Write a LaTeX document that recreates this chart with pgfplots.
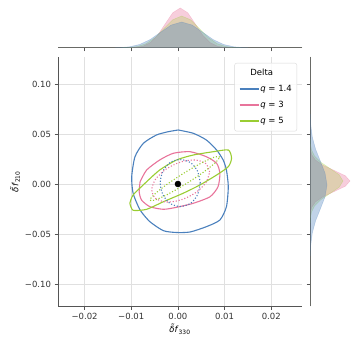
\documentclass[border=0pt]{standalone}
\usepackage{fontspec}
\setmainfont{DejaVu Sans}
\usepackage{pgfplots}
\pgfplotsset{compat=1.18}

\definecolor{cb}{HTML}{4A80BD}
\definecolor{cp}{HTML}{E8749B}
\definecolor{cg}{HTML}{9ACD32}
\definecolor{spine}{HTML}{555555}

\pgfplotsset{
  every axis/.append style={
    scale only axis,
    scaled ticks=false,
    font=\fontsize{8.5}{10}\selectfont,
    tick label style={color=black!80},
    axis line style={spine, line width=1pt},
    tick style={spine, line width=0.8pt},
    major tick length=3.5pt,
    tick align=outside,
  },
}

\begin{document}
\begin{tikzpicture}
\useasboundingbox (0pt,0pt) rectangle (358pt,345pt);

% main joint panel
\begin{axis}[
  at={(58pt,39pt)}, anchor=south west,
  width=244pt, height=249pt,
  xmin=-0.0257, xmax=0.0266,
  ymin=-0.122, ymax=0.127,
  axis x line*=bottom, axis y line*=left,
  xtick={-0.02,-0.01,0,0.01,0.02},
  xticklabels={−0.02,−0.01,0.00,0.01,0.02},
  ytick={-0.1,-0.05,0,0.05,0.1},
  yticklabels={−0.10,−0.05,0.00,0.05,0.10},
  grid=major, grid style={black!12, line width=0.6pt},
  xlabel={\textit{δ̃f}\textsubscript{330}},
  ylabel={\textit{δ̃f}\textsubscript{210}},
  xlabel style={yshift=2pt},
  ylabel style={yshift=-2pt},
  legend style={at={(239pt,243pt)}, anchor=north east,
    draw=black!15, rounded corners=2pt, fill=white, fill opacity=0.85, text opacity=1,
    row sep=6pt, inner xsep=4pt, inner ysep=5pt,
    nodes={inner sep=1pt, text height=6.5pt, text depth=1.5pt},
    font=\fontsize{8.5}{10}\selectfont},
  legend cell align=left,
  legend image code/.code={\draw[#1] (0pt,0pt) -- (19pt,0pt);},
  legend image post style={line width=1.7pt, solid, opacity=1},
]
\addlegendimage{empty legend}
\addlegendentry{\hspace*{-10pt}Delta}

\addplot[cb, line width=1.1pt, smooth, tension=0.4] coordinates {
(0.00007,0.054) (0.0033,0.0507) (0.0061,0.044) (0.0083,0.034) (0.0097,0.024)
(0.0104,0.014) (0.0108,-0.0027) (0.0104,-0.0227) (0.009,-0.036) (0.0061,-0.0427)
(0.0026,-0.0480) (-0.0003,-0.0485) (-0.0031,-0.0467) (-0.006,-0.0377) (-0.0081,-0.026)
(-0.0096,-0.0093) (-0.0099,0.0073) (-0.0092,0.0273) (-0.0074,0.0407) (-0.0046,0.049)
(-0.00207,0.0523) (0.00007,0.054)
};
\addlegendentry{\textit{q} = 1.4}

\addplot[cp, line width=1.1pt, smooth, tension=0.4] coordinates {
(-0.0081,0.0023) (-0.0067,0.014) (-0.0039,0.024) (-0.001,0.0307) (0.0026,0.0323)
(0.0061,0.0273) (0.0083,0.0207) (0.009,0.0107) (0.0086,-0.0027) (0.0069,-0.0127)
(0.0033,-0.0193) (-0.0003,-0.0233) (-0.0031,-0.0253) (-0.006,-0.0227) (-0.0078,-0.016)
(-0.0083,-0.0077) (-0.0081,0.0023)
};
\addlegendentry{\textit{q} = 3}

\addplot[cg, line width=1.1pt, smooth, tension=0.4] coordinates {
(-0.0103,-0.0193) (-0.0096,-0.011) (-0.0067,0.0023) (-0.0039,0.014) (-0.0003,0.024)
(0.0033,0.029) (0.0076,0.0323) (0.0108,0.034) (0.0115,0.0257) (0.0108,0.0173)
(0.0083,0.009) (0.0047,-0.001) (0.0011,-0.0093) (-0.0031,-0.0177) (-0.0067,-0.0253)
(-0.0096,-0.0263) (-0.0103,-0.0193)
};
\addlegendentry{\textit{q} = 5}

% inner (dotted) contours
\addplot[cb, line width=1.1pt, dash pattern=on 1.1pt off 1.9pt, smooth, forget plot] coordinates {
(0.0048,0.001) (0.0042,0.0128) (0.0027,0.0214) (0.0005,0.0245) (-0.0017,0.0214)
(-0.0032,0.0128) (-0.0038,0.001) (-0.0032,-0.0108) (-0.0017,-0.0194) (0.0005,-0.0225)
(0.0027,-0.0194) (0.0042,-0.0108) (0.0048,0.001)
};
\addplot[cp, line width=1.1pt, dash pattern=on 1.1pt off 1.9pt, smooth, forget plot] coordinates {
(0.0068,0.012) (0.0060,0.0203) (0.0037,0.024) (0.0006,0.022) (-0.0025,0.015)
(-0.0048,0.0047) (-0.0056,-0.006) (-0.0048,-0.0143) (-0.0025,-0.018) (0.0006,-0.016)
(0.0037,-0.009) (0.006,0.0013) (0.0068,0.012)
};
\addplot[cg, line width=1.1pt, dash pattern=on 1.1pt off 1.9pt, smooth, forget plot] coordinates {
(0.009,0.027) (0.008,0.0272) (0.00525,0.0215) (0.0015,0.0115) (-0.00225,-0.00006)
(-0.005,-0.0102) (-0.006,-0.016) (-0.005,-0.0162) (-0.00225,-0.0105) (0.0015,-0.0005)
(0.00525,0.0111) (0.008,0.0212) (0.009,0.027)
};

\addplot[only marks, mark=*, mark size=3pt, black, forget plot] coordinates {(0,0)};
\end{axis}

% top marginal
\begin{axis}[
  at={(58pt,297pt)}, anchor=south west,
  width=244pt, height=48pt,
  xmin=-0.0257, xmax=0.0266, ymin=0, ymax=48,
  axis x line*=bottom, hide y axis,
  xtick={-0.02,-0.01,0,0.01,0.02}, xticklabels={},
]
\addplot[draw=cp, draw opacity=0.3, fill=cp, fill opacity=0.35, line width=0.5pt] coordinates {
(-0.0257,0) (-0.0123,0.01) (-0.0091,0.44) (-0.0075,1.76) (-0.0059,5.41) (-0.0043,12.99)
(-0.0027,24.26) (-0.0011,35.3) (0.0005,40) (0.0021,35.3) (0.0037,24.26)
(0.0053,12.99) (0.0069,5.41) (0.0085,1.76) (0.0101,0.44) (0.0133,0.01) (0.0266,0)
};
\addplot[draw=cg, draw opacity=0.3, fill=cg, fill opacity=0.25, line width=0.5pt] coordinates {
(-0.0257,0) (-0.0144,0.01) (-0.0106,0.36) (-0.0087,1.40) (-0.0068,4.33) (-0.0049,10.39)
(-0.003,19.41) (-0.0011,28.24) (0.0008,32) (0.0027,28.24) (0.0046,19.41)
(0.0065,10.39) (0.0084,4.33) (0.0103,1.40) (0.0122,0.36) (0.016,0.01) (0.0266,0)
};
\addplot[draw=cb, draw opacity=0.3, fill=cb, fill opacity=0.35, line width=0.5pt] coordinates {
(-0.0257,0) (-0.0172,0.008) (-0.0127,0.29) (-0.01045,1.14) (-0.0082,3.52) (-0.00595,8.44)
(-0.0037,15.77) (-0.00145,22.95) (0.0008,26) (0.00305,22.95) (0.0053,15.77)
(0.00755,8.44) (0.0098,3.52) (0.01205,1.14) (0.0143,0.29) (0.0188,0.008) (0.0266,0)
};
\end{axis}

% right marginal
\begin{axis}[
  at={(310pt,39pt)}, anchor=south west,
  width=48pt, height=249pt,
  ymin=-0.122, ymax=0.127, xmin=0, xmax=48,
  axis y line*=left, hide x axis,
  ytick={-0.1,-0.05,0,0.05,0.1}, yticklabels={},
]
\addplot[draw=cp, draw opacity=0.3, fill=cp, fill opacity=0.35, line width=0.5pt] coordinates {
(0,-0.122) (0.01,-0.039) (0.44,-0.0285) (1.76,-0.02325) (5.41,-0.018) (12.99,-0.01275)
(24.26,-0.0075) (35.3,-0.00225) (40,0.003) (35.3,0.00825) (24.26,0.0135) (12.99,0.01875)
(5.41,0.024) (1.76,0.02925) (0.44,0.0345) (0.01,0.045) (0,0.127)
};
\addplot[draw=cg, draw opacity=0.3, fill=cg, fill opacity=0.25, line width=0.5pt] coordinates {
(0,-0.122) (0.01,-0.047) (0.37,-0.0345) (1.45,-0.02825) (4.47,-0.022) (10.72,-0.01575)
(20.01,-0.0095) (29.12,-0.00325) (33,0.003) (29.12,0.00925) (20.01,0.0155) (10.72,0.02175)
(4.47,0.028) (1.45,0.03425) (0.37,0.0405) (0.01,0.053) (0,0.127)
};
\addplot[draw=cb, draw opacity=0.3, fill=cb, fill opacity=0.35, line width=0.5pt] coordinates {
(0,-0.122) (0.006,-0.097) (0.19,-0.073) (0.75,-0.061) (2.30,-0.049) (5.52,-0.037)
(10.31,-0.025) (15.0,-0.013) (17,-0.001) (15.0,0.011) (10.31,0.023) (5.52,0.035)
(2.30,0.047) (0.75,0.059) (0.19,0.071) (0.006,0.095) (0,0.127)
};
\end{axis}
\end{tikzpicture}
\end{document}
